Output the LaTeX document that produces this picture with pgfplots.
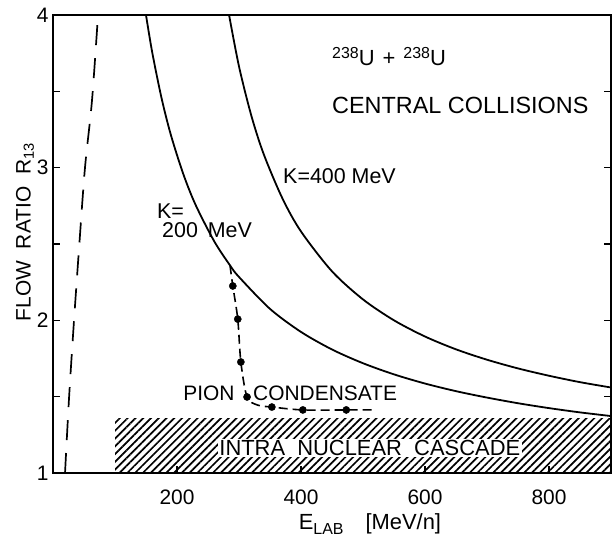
\documentclass[border=0pt]{standalone}
\usepackage{fontspec}
\setmainfont{Liberation Sans}
\usepackage{pgfplots}
\pgfplotsset{compat=1.18}
\usetikzlibrary{patterns.meta}
\begin{document}
\begin{tikzpicture}[x=1bp,y=1bp]
\path[use as bounding box] (-53,-65) rectangle (559,473);
\begin{axis}[
  at={(0,0)}, anchor=south west,
  scale only axis, width=558bp, height=458bp,
  xmin=0, xmax=900, ymin=1, ymax=4,
  clip=false,
  axis line style={line width=1.6bp},
  xtick={200,400,600,800}, ytick={1,2,3,4},
  minor ytick={1.5,2.5,3.5},
  tick align=inside, xtick pos=bottom,
  major tick length=7bp, minor tick length=7bp,
  tick style={line width=1.2bp, black},
  /pgf/number format/assume math mode=true,
  /pgf/number format/set thousands separator={},
  ticklabel style={font=\fontsize{21}{25}\selectfont},
  xticklabel style={yshift=-13bp},
  yticklabel style={xshift=-1bp},
]
% hatched region
\addplot[draw=none, pattern={Lines[angle=45,distance=5.5bp,line width=1.7bp]}] coordinates {(100,1) (900,1) (900,1.355) (100,1.355) (100,1)} -- cycle;
% left dashed curve
\addplot[black, line width=1.7bp, smooth, dash pattern=on 20bp off 13bp] coordinates {(19.4,1) (26,1.5) (33.9,2) (42.5,2.5) (51.6,3) (62.9,3.44) (72.6,4)};
% K=200
\addplot[black, line width=1.8bp, smooth] coordinates {(150,4.0) (160,3.756) (175,3.457) (190,3.216) (210,2.960) (230,2.756) (260,2.518) (285.5,2.360) (300,2.284) (350,2.075) (400,1.924) (450,1.809) (500,1.719) (550,1.646) (600,1.586) (650,1.536) (700,1.494) (750,1.457) (800,1.425) (850,1.397) (900,1.373)};
% K=400
\addplot[black, line width=1.8bp, smooth] coordinates {(284,4.0) (300,3.663) (320,3.339) (340,3.087) (370,2.799) (400,2.582) (450,2.321) (500,2.137) (550,2.000) (600,1.894) (650,1.810) (700,1.742) (750,1.685) (800,1.637) (850,1.595) (900,1.560)};
% pion condensate branch
\addplot[black, line width=1.6bp, smooth, tension=0.5, dash pattern=on 9bp off 5bp] coordinates {(285.5,2.360) (290,2.225) (298,2.008) (303,1.727) (313,1.498) (330,1.445) (353,1.432) (403,1.413) (473,1.413) (515,1.413)};
\addplot[only marks, mark=*, mark size=3.6bp, black] coordinates {(290,2.225) (298,2.008) (303,1.727) (313,1.498) (353,1.432) (403,1.413) (473,1.413)};
% texts
\node[anchor=base west, font=\fontsize{22}{26}\selectfont, inner sep=0pt] at (axis cs:450,3.672) {\raisebox{7bp}{\fontsize{16}{16}\selectfont 238}U\hspace{8bp}+\hspace{8bp}\raisebox{7bp}{\fontsize{16}{16}\selectfont 238}U};
\node[anchor=base west, font=\fontsize{23.5}{27}\selectfont, inner sep=0pt] at (axis cs:450,3.357) {CENTRAL COLLISIONS};
\node[anchor=base west, font=\fontsize{21.5}{25}\selectfont, inner sep=0pt] at (axis cs:371,2.899) {K=400 MeV};
\node[anchor=base west, font=\fontsize{21.5}{25}\selectfont, inner sep=0pt] at (axis cs:167.7,2.670) {K=};
\node[anchor=base west, font=\fontsize{21.5}{25}\selectfont, inner sep=0pt] at (axis cs:175.8,2.545) {200\hspace{10bp}MeV};
\node[anchor=base east, font=\fontsize{21}{25}\selectfont, inner sep=0pt] at (axis cs:293,1.478) {PION};
\node[anchor=base west, font=\fontsize{21}{25}\selectfont, inner sep=0pt] at (axis cs:322.6,1.478) {CONDENSATE};
\node[fill=white, inner sep=1.5bp, font=\fontsize{22}{26}\selectfont] at (axis cs:511,1.164) {INTRA\ \ NUCLEAR\ \ CASCADE};
\node[rotate=90, font=\fontsize{21}{25}\selectfont] at (rel axis cs:-0.0502,0.526) {FLOW\ \ RATIO\ \ R\textsubscript{13}};
\node[anchor=base, font=\fontsize{22}{26}\selectfont, inner sep=0pt] at (rel axis cs:0.568,-0.1223) {E\raisebox{-5bp}{\fontsize{16}{18}\selectfont LAB}\quad[MeV/n]};
\end{axis}
\end{tikzpicture}
\end{document}
